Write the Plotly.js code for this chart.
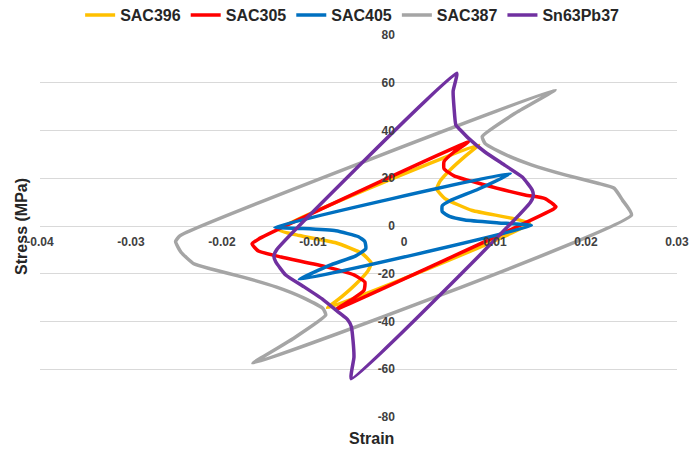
<!DOCTYPE html>
<html>
<head>
<meta charset="utf-8">
<script src="https://cdn.plot.ly/plotly-3.0.1.min.js"></script>
<style>html,body{margin:0;padding:0;background:#fff;}</style>
</head>
<body>
<div id="chart" style="width:690px;height:449px;"></div>
<script>
// ---- Data ----
const seriesNames = ["SAC396", "SAC305", "SAC405", "SAC387", "Sn63Pb37"];
const seriesColors = ["#FFC000", "#FF0000", "#0070C0", "#A5A5A5", "#7030A0"];

const sac396X = [0.0082, 0.0068, 0.0052, 0.0040, 0.0036, 0.0045, 0.0075, 0.0115, 0.0138, -0.0084, -0.0068, -0.0052, -0.0040, -0.0036, -0.0046, -0.0075, -0.0115, -0.0138, 0.0082];
const sac396Y = [34, 29.5, 24, 19, 15.5, 11.5, 6.5, 3.5, 1, -34.3, -29.5, -24, -19, -15.5, -11.5, -7, -4, -1.5, 34];

const sac305X = [0.0071, 0.0055, 0.0044, 0.0044, 0.0055, 0.0086, 0.0133, 0.0155, 0.0167, 0.0164, -0.0075, -0.0058, -0.0044, -0.0043, -0.0055, -0.0086, -0.0135, -0.0160, -0.0167, -0.0160, 0.0071];
const sac305Y = [35.3, 31, 27, 24, 21, 17.5, 13, 11.5, 8, 7, -35, -31, -27, -23.5, -20.5, -17, -13, -10.5, -7.5, -5.5, 35.3];

const sac405X = [0.0117, 0.0082, 0.0050, 0.0042, 0.0042, 0.0050, 0.0067, 0.0104, 0.0140, -0.0115, -0.0082, -0.0053, -0.0042, -0.0043, -0.0050, -0.0075, -0.0115, -0.0142, 0.0117];
const sac405Y = [22, 15.5, 10.5, 8.5, 6, 4, 2.5, 1.3, 0.2, -22.4, -16.5, -12.5, -9.5, -6.5, -4.5, -2, -1, -0.5, 22];

const sac387X = [0.0166, 0.0122, 0.0086, 0.0089, 0.0111, 0.0140, 0.0177, 0.0213, 0.0231, 0.0240, 0.0250, -0.0166, -0.0122, -0.0086, -0.0089, -0.0111, -0.0140, -0.0177, -0.0213, -0.0231, -0.0245, -0.0251, -0.0246, 0.0166];
const sac387Y = [57, 47.2, 37.5, 34.6, 30, 25.6, 21.4, 17.9, 15.8, 10.9, 4.6, -57.5, -47.2, -37.3, -34.6, -30, -25.6, -21.4, -17.9, -15.8, -11, -6.5, -4, 57];

const sn63X = [0.0058, 0.0054, 0.0055, 0.0057, 0.0062, 0.0071, 0.0089, 0.0111, 0.0130, 0.0141, 0.0142, 0.0139, -0.0058, -0.0055, -0.0056, -0.0058, -0.0062, -0.0071, -0.0089, -0.0111, -0.0130, -0.0141, -0.0143, -0.0140, 0.0058];
const sn63Y = [64, 56.5, 49.5, 42.3, 40.2, 36.7, 31, 25.4, 20.5, 15, 12.5, 10, -64, -55, -48, -42, -39.2, -36.4, -30.8, -25.2, -20.5, -15, -12.5, -10, 64];

const seriesX = [sac396X, sac305X, sac405X, sac387X, sn63X];
const seriesY = [sac396Y, sac305Y, sac405Y, sac387Y, sn63Y];

const xTickVals = [-0.04, -0.03, -0.02, -0.01, 0, 0.01, 0.02, 0.03];
const xTickText = ["-0.04", "-0.03", "-0.02", "-0.01", "0", "0.01", "0.02", "0.03"];
const yTickVals = [-80, -60, -40, -20, 0, 20, 40, 60, 80];
const yTickText = ["-80", "-60", "-40", "-20", "0", "20", "40", "60", "80"];

const xTitle = "Strain";
const yTitle = "Stress (MPa)";

// ---- Traces ----
const traces = seriesNames.map((name, i) => ({
  type: "scatter",
  mode: "lines",
  name: name,
  x: seriesX[i],
  y: seriesY[i],
  line: { color: seriesColors[i], width: 3.5, shape: "spline", smoothing: 0.45 },
  hoverinfo: "skip"
}));

const fontFam = "Liberation Sans, Arial, sans-serif";
const tickFont = { family: fontFam, size: 12, color: "#404040", weight: "bold" };

const layout = {
  width: 690,
  height: 449,
  margin: { l: 40, r: 13, t: 35, b: 32, pad: 0, autoexpand: false },
  paper_bgcolor: "#ffffff",
  plot_bgcolor: "#ffffff",
  font: { family: fontFam, color: "#262626" },
  showlegend: true,
  legend: {
    orientation: "h",
    x: 0.49,
    xanchor: "center",
    y: 1.052,
    yanchor: "middle",
    font: { family: fontFam, size: 16, color: "#262626", weight: "bold" },
    itemwidth: 30,
    tracegroupgap: 0,
    bgcolor: "rgba(0,0,0,0)"
  },
  xaxis: {
    range: [-0.04, 0.03],
    tickvals: xTickVals,
    ticktext: xTickText,
    showgrid: false,
    zeroline: false,
    showline: false,
    ticks: "",
    anchor: "free",
    position: 0.5,
    tickfont: tickFont,
    ticklabelstandoff: 7,
    ticklabeloverflow: "allow",
    automargin: false,
    fixedrange: true
  },
  yaxis: {
    range: [-80, 80],
    tickvals: yTickVals,
    ticktext: yTickText,
    showgrid: true,
    gridcolor: "#D9D9D9",
    gridwidth: 1,
    zeroline: false,
    showline: false,
    ticks: "",
    anchor: "free",
    position: 0.5714,
    tickfont: tickFont,
    ticklabelstandoff: 9,
    ticklabeloverflow: "allow",
    automargin: false,
    fixedrange: true
  },
  annotations: [
    {
      text: yTitle, xref: "paper", yref: "paper",
      x: -0.03, y: 0.5, xanchor: "center", yanchor: "middle",
      textangle: -90, showarrow: false,
      font: { family: fontFam, size: 16, color: "#262626", weight: "bold" }
    },
    {
      text: xTitle, xref: "paper", yref: "paper",
      x: 0.52, y: -0.055, xanchor: "center", yanchor: "middle",
      showarrow: false,
      font: { family: fontFam, size: 16, color: "#262626", weight: "bold" }
    }
  ]
};

Plotly.newPlot("chart", traces, layout, { displayModeBar: false, staticPlot: true });
</script>
</body>
</html>
